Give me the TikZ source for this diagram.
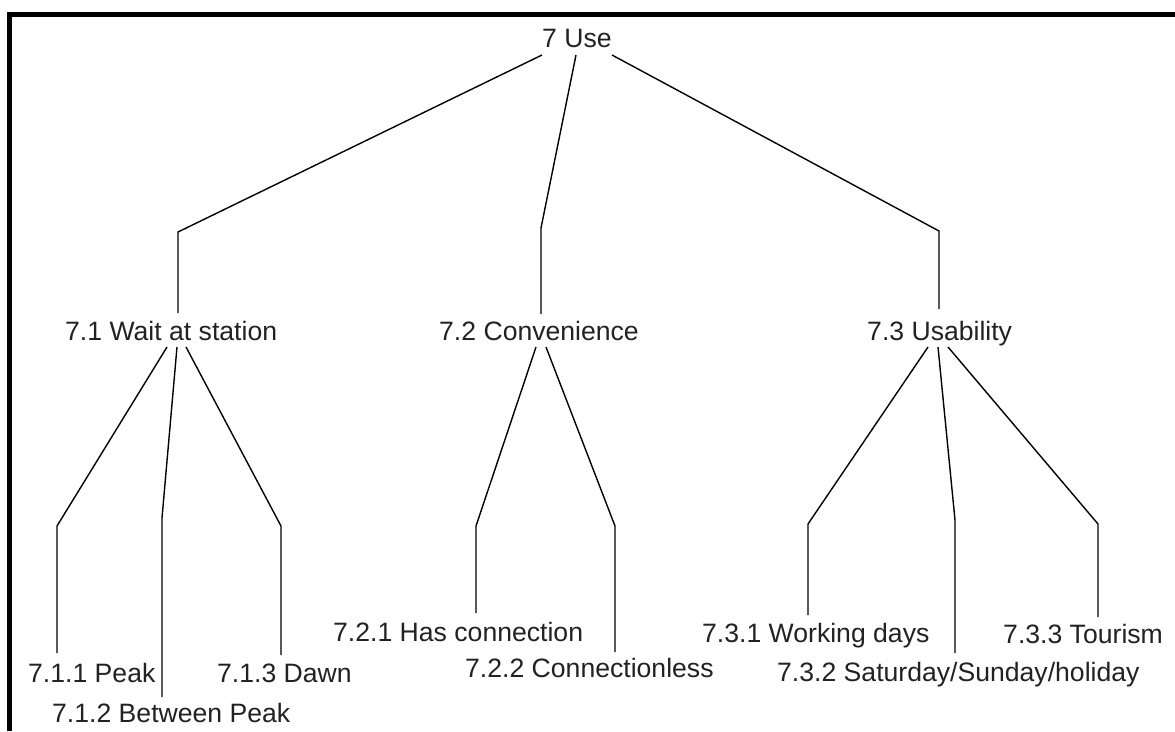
\documentclass[tikz,border=0pt]{standalone}
\usepackage{fontspec}
\setmainfont{Liberation Sans}
\definecolor{txt}{HTML}{222222}
\begin{document}
\begin{tikzpicture}[x=1pt,y=-1pt,
  lbl/.style={font=\fontsize{26.6}{30}\selectfont, text=txt, inner sep=0pt, anchor=base west},
  conn/.style={line width=1.4pt, black, line join=miter}]
\useasboundingbox (0,0) rectangle (1175,731);
\fill[white] (0,0) rectangle (1175,731);
% frame
\draw[line width=5pt, black] (9.5,731) -- (9.5,14.5) -- (1175,14.5);
% nodes
\node[lbl] (n7)   at (542,47)  {7 Use};
\node[lbl] (n71)  at (65,340)  {7.1 Wait at station};
\node[lbl] (n72)  at (439,340) {7.2 Convenience};
\node[lbl] (n73)  at (867,340) {7.3 Usability};
\node[lbl] (n711) at (28,682)  {7.1.1 Peak};
\node[lbl] (n712) at (52,722)  {7.1.2 Between Peak};
\node[lbl] (n713) at (217,682) {7.1.3 Dawn};
\node[lbl] (n721) at (333,641) {7.2.1 Has connection};
\node[lbl] (n722) at (465,677) {7.2.2 Connectionless};
\node[lbl] (n731) at (702,642) {7.3.1 Working days};
\node[lbl] (n732) at (777,681) {7.3.2 Saturday/Sunday/holiday};
\node[lbl] (n733) at (1003,643) {7.3.3 Tourism};
% connector points
\coordinate (s7a) at (542,55);  \coordinate (s7b) at (576,55);  \coordinate (s7c) at (612,55);
\coordinate (e71) at (178,232); \coordinate (t71) at (178,313);
\coordinate (e72) at (541,228); \coordinate (t72) at (541,314);
\coordinate (e73) at (939,231); \coordinate (t73) at (939,309);
\coordinate (s71a) at (167,347); \coordinate (s71b) at (177,347); \coordinate (s71c) at (186,347);
\coordinate (e711) at (57,526);  \coordinate (t711) at (57,653);
\coordinate (e712) at (162,518); \coordinate (t712) at (162,697);
\coordinate (e713) at (281,526); \coordinate (t713) at (281,655);
\coordinate (s72a) at (536,347); \coordinate (s72b) at (546,347);
\coordinate (e721) at (476,526); \coordinate (t721) at (476,613);
\coordinate (e722) at (615,526); \coordinate (t722) at (615,652);
\coordinate (s73a) at (928,347); \coordinate (s73b) at (938,347); \coordinate (s73c) at (948,347);
\coordinate (e731) at (808,524); \coordinate (t731) at (808,615);
\coordinate (e732) at (955,520); \coordinate (t732) at (955,653);
\coordinate (e733) at (1098,524); \coordinate (t733) at (1098,617);
% connectors
\draw[conn] (s7a) -- (e71) -- (t71);
\draw[conn] (s7b) -- (e72) -- (t72);
\draw[conn] (s7c) -- (e73) -- (t73);
\draw[conn] (s71a) -- (e711) -- (t711);
\draw[conn] (s71b) -- (e712) -- (t712);
\draw[conn] (s71c) -- (e713) -- (t713);
\draw[conn] (s72a) -- (e721) -- (t721);
\draw[conn] (s72b) -- (e722) -- (t722);
\draw[conn] (s73a) -- (e731) -- (t731);
\draw[conn] (s73b) -- (e732) -- (t732);
\draw[conn] (s73c) -- (e733) -- (t733);
\end{tikzpicture}
\end{document}
